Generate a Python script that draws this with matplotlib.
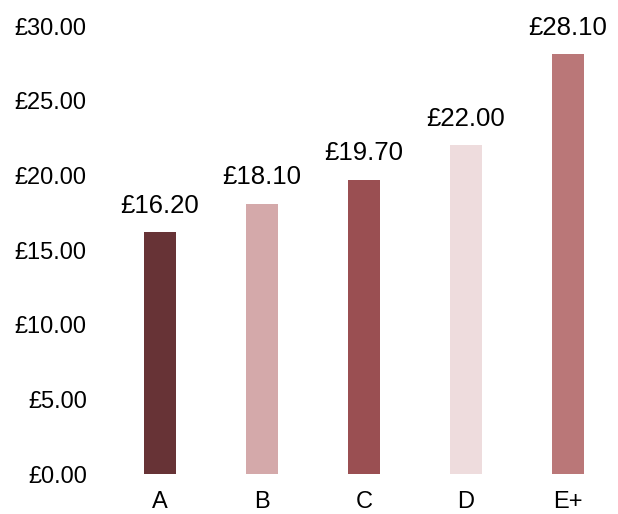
import matplotlib.pyplot as plt
import numpy as np

# values
categories = ["A", "B", "C", "D", "E+"]
prices = [16.20, 18.10, 19.70, 22.00, 28.10]
colours = ["#673336", "#D4A9AA", "#9A4F52", "#EEDCDD", "#BA7778"]
y_ticks = [0, 5, 10, 15, 20, 25, 30]

plt.rcParams['font.family'] = ['Liberation Sans', 'DejaVu Sans']

fig = plt.figure(figsize=(6.18, 5.14), dpi=100)
ax = fig.add_axes([0.1764, 0.0778, 0.825, 0.8716])

x = np.arange(len(categories))
bars = ax.bar(x, prices, width=0.32, color=colours)

# data labels above each bar
for rect, val in zip(bars, prices):
    ax.annotate(f"£{val:.2f}", (rect.get_x() + rect.get_width() / 2, val),
                xytext=(0, 10.5), textcoords="offset points",
                ha="center", va="bottom", fontsize=18.5, annotation_clip=False)

ax.set_xlim(-0.5, 4.5)
ax.set_ylim(0, 30)
ax.set_xticks(x)
ax.set_xticklabels(categories)
ax.set_yticks(y_ticks)
ax.set_yticklabels([f"£{v:.2f}" for v in y_ticks])
ax.tick_params(axis="both", length=0, labelsize=17)
ax.tick_params(axis="y", pad=16)
ax.tick_params(axis="x", pad=12.5)

for s in ax.spines.values():
    s.set_visible(False)

fig.savefig("out.png", dpi=100)
